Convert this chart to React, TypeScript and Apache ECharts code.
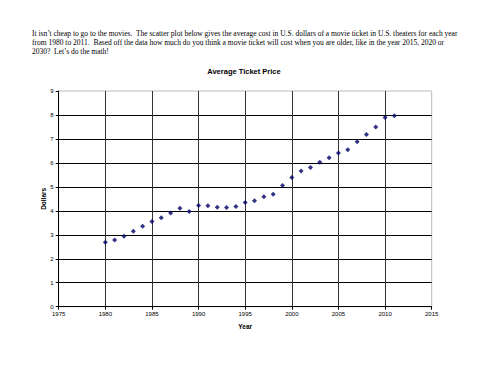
import React, { useEffect, useRef } from "react";
import * as echarts from "echarts";

const years = [1980, 1981, 1982, 1983, 1984, 1985, 1986, 1987, 1988, 1989, 1990, 1991, 1992, 1993, 1994, 1995, 1996, 1997, 1998, 1999, 2000, 2001, 2002, 2003, 2004, 2005, 2006, 2007, 2008, 2009, 2010, 2011];
const prices = [2.69, 2.78, 2.94, 3.15, 3.36, 3.55, 3.71, 3.91, 4.11, 3.97, 4.22, 4.21, 4.15, 4.14, 4.18, 4.35, 4.42, 4.59, 4.69, 5.06, 5.39, 5.66, 5.81, 6.03, 6.21, 6.41, 6.55, 6.88, 7.18, 7.5, 7.89, 7.97];

const introLines = [
  "It isn\u2019t cheap to go to the movies.  The scatter plot below gives the average cost in U.S. dollars of a movie ticket in U.S. theaters for each year",
  "from 1980 to 2011.  Based off the data how much do you think a movie ticket will cost when you are older, like in the year 2015, 2020 or",
  "2030?  Let\u2019s do the math!",
];
const chartTitle = "Average Ticket Price";
const xName = "Year";
const yName = "Dollars";

export default function App() {
  const ref = useRef<HTMLDivElement>(null);
  useEffect(() => {
    if (!ref.current) return;
    const chart = echarts.init(ref.current, null, { renderer: "svg" });
    const sans = "'Liberation Sans', Arial, sans-serif";
    chart.setOption({
      animation: false,
      backgroundColor: "#fff",
      title: {
        text: chartTitle,
        left: 239,
        textAlign: "center",
        top: 62,
        textStyle: { fontSize: 7.5, fontWeight: "bold", fontFamily: sans, color: "#000" },
      },
      graphic: introLines.map((t, i) => ({
        type: "text",
        left: 32,
        top: 29 + i * 9,
        style: { text: t, fontSize: 7.5, fontFamily: "'Liberation Serif', 'Times New Roman', serif", fill: "#000" },
      })),
      grid: {
        left: 58.7,
        right: 68.3,
        top: 91,
        bottom: 79.3,
        show: true,
        borderColor: "#bbbbbb",
        borderWidth: 1,
        backgroundColor: "transparent",
      },
      xAxis: {
        type: "value",
        min: 1975,
        max: 2015,
        interval: 5,
        name: xName,
        nameLocation: "middle",
        nameGap: 16,
        nameMoveOverlap: false,
        nameTextStyle: { fontSize: 6.5, fontWeight: "bold", fontFamily: sans, color: "#000" },
        axisLine: { show: true, lineStyle: { color: "#000", width: 1 } },
        axisTick: { show: true, inside: false, length: 3, lineStyle: { color: "#000" } },
        axisLabel: { fontSize: 6, fontFamily: sans, color: "#000", margin: 4, formatter: (v: number) => String(v) },
        splitLine: { show: true, showMinLine: false, showMaxLine: false, lineStyle: { color: "#333", width: 1 } },
      },
      yAxis: {
        type: "value",
        min: 0,
        max: 9,
        interval: 1,
        name: yName,
        nameLocation: "middle",
        nameGap: 12,
        nameRotate: 90,
        nameMoveOverlap: false,
        nameTextStyle: { fontSize: 6.5, fontWeight: "bold", fontFamily: sans, color: "#000" },
        axisLine: { show: true, lineStyle: { color: "#000", width: 1 } },
        axisTick: { show: true, inside: false, length: 3, lineStyle: { color: "#000" } },
        axisLabel: { fontSize: 6, fontFamily: sans, color: "#000", margin: 5 },
        splitLine: { show: true, showMinLine: false, showMaxLine: false, lineStyle: { color: "#000", width: 1 } },
      },
      series: [
        {
          type: "scatter",
          data: years.map((y, i) => [y, prices[i]]),
          symbol: "diamond",
          symbolSize: 5,
          itemStyle: { color: "#000066" },
        },
      ],
    });
    return () => chart.dispose();
  }, []);
  return <div ref={ref} style={{ position: "fixed", left: 0, top: 0, width: 500, height: 386, background: "#fff" }} />;
}
